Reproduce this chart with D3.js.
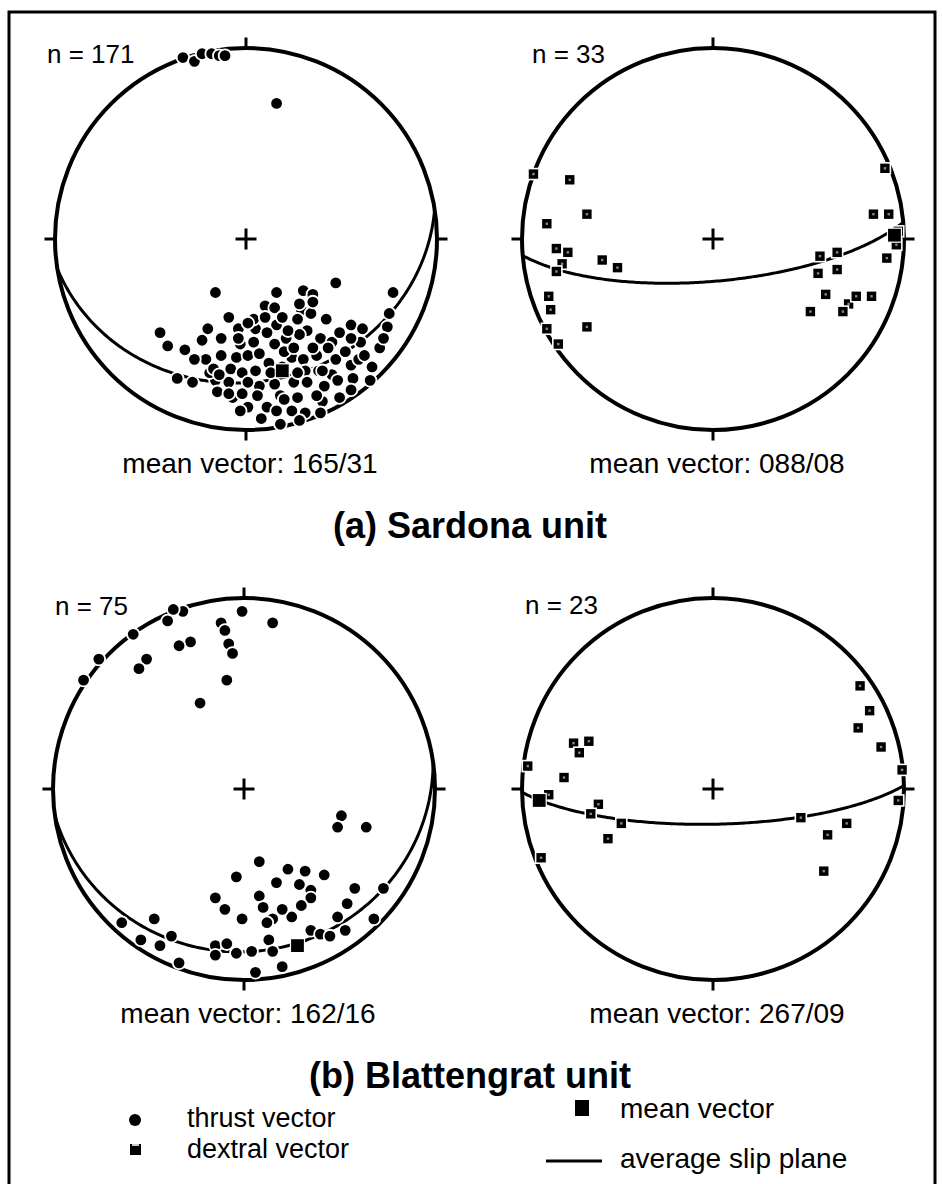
<!DOCTYPE html>
<html lang="en">
<head>
<meta charset="UTF-8">
<title>Slip vectors - Sardona and Blattengrat units</title>
<script src="https://d3js.org/d3.v7.min.js"></script>
<style>
  body { margin: 0; background: #fff; }
  text { font-family: "Liberation Sans", Arial, sans-serif; fill: #000; }
</style>
</head>
<body>
<script>
// Lineations as equal-area net coordinates [x east, y north], unit = net radius,
// read off the four plots.
let sardonaThrust = [
  [-0.33,0.95],[-0.27,0.93],[-0.23,0.97],[-0.18,0.97],[-0.14,0.96],[-0.11,0.96],
  [0.16,0.71],
  [-0.16,-0.28],[0.16,-0.28],[0.30,-0.27],[0.35,-0.29],[0.47,-0.23],[0.77,-0.28],
  [0.10,-0.35],[0.15,-0.36],[0.29,-0.37],[0.34,-0.39],[0.75,-0.39],
  [-0.09,-0.41],[0.16,-0.45],[0.27,-0.42],[0.32,-0.48],[0.42,-0.42],[0.55,-0.45],[0.61,-0.47],[0.74,-0.46],
  [-0.45,-0.49],[-0.41,-0.56],[-0.20,-0.47],[-0.04,-0.47],[0.05,-0.47],[0.11,-0.49],
  [-0.23,-0.53],[-0.13,-0.52],[0.04,-0.54],[0.15,-0.55],[0.21,-0.52],[0.28,-0.50],[0.39,-0.52],[0.45,-0.54],
  [0.60,-0.54],[0.70,-0.57],[0.72,-0.52],
  [-0.21,-0.63],[-0.13,-0.61],[-0.05,-0.62],[0.01,-0.61],[0.07,-0.60],[0.12,-0.65],[0.24,-0.62],[0.30,-0.63],
  [0.37,-0.61],[0.43,-0.57],[0.47,-0.63],[0.55,-0.66],[0.66,-0.67],
  [-0.08,-0.68],[-0.02,-0.70],[0.05,-0.69],[0.31,-0.69],[0.38,-0.69],[0.45,-0.71],[0.56,-0.73],
  [-0.36,-0.73],[-0.28,-0.75],[-0.16,-0.74],[-0.09,-0.75],[0.07,-0.77],[0.15,-0.76],[0.25,-0.75],[0.32,-0.75],[0.41,-0.77],
  [-0.15,-0.80],[-0.07,-0.83],[0.06,-0.82],[0.18,-0.82],[0.27,-0.83],[0.40,-0.85],[0.49,-0.83],
  [0.11,-0.88],[0.16,-0.90],[0.24,-0.90],[0.31,-0.91],[0.18,-0.97],
  [0.13,-0.70],[0.27,-0.70],[0.20,-0.59],[-0.03,-0.55],[0.35,-0.57],[0.52,-0.59],[-0.19,-0.70],[0.04,-0.42],[-0.02,-0.81],
  [0.01,-0.44],[0.40,-0.69],[0.01,-0.75],[0.01,-0.88],[0.59,-0.63],[0.65,-0.74],[0.48,-0.74],[0.19,-0.67],
  [0.25,-0.57],[0.19,-0.41],[0.35,-0.33],[0.28,-0.34],[0.20,-0.84],[0.08,-0.94],[0.37,-0.82],[0.55,-0.79],
  [-0.17,-0.68],[-0.27,-0.63],[-0.32,-0.58],[-0.04,-0.52],[-0.09,-0.81],[-0.03,-0.90],[0.28,-0.95],[0.39,-0.91],
  [0.62,-0.61],[0.49,-0.49],[0.55,-0.52],[0.10,-0.41],[0.22,-0.48],[-0.14,-0.71]
];
let sardonaDextral = [
  [-0.94,0.34],[-0.75,0.31],[-0.66,0.13],[-0.87,0.08],[-0.82,-0.05],[-0.76,-0.07],[-0.79,-0.13],[-0.82,-0.17],
  [-0.58,-0.11],[-0.50,-0.15],[-0.86,-0.30],[-0.85,-0.37],[-0.87,-0.47],[-0.81,-0.55],[-0.66,-0.46],
  [0.90,0.37],[0.84,0.13],[0.92,0.13],[0.96,-0.03],[0.91,-0.10],[0.97,0.04],
  [0.56,-0.09],[0.65,-0.07],[0.55,-0.18],[0.65,-0.16],[0.59,-0.29],[0.51,-0.38],[0.71,-0.34],[0.68,-0.38],
  [0.75,-0.30],[0.83,-0.30]
];
let blattThrust = [
  [-0.32,0.93],[-0.37,0.94],[-0.01,0.93],[0.15,0.87],[-0.40,0.88],[-0.12,0.87],[-0.10,0.83],[-0.58,0.81],
  [-0.28,0.77],[-0.34,0.75],[-0.08,0.76],[-0.06,0.71],[-0.76,0.68],[-0.51,0.68],[-0.55,0.63],[-0.84,0.57],
  [-0.09,0.57],[-0.23,0.45],
  [0.51,-0.14],[0.49,-0.20],[0.64,-0.20],
  [0.08,-0.38],[-0.04,-0.46],[0.23,-0.42],[0.32,-0.43],[0.42,-0.45],[0.17,-0.49],[0.29,-0.50],[0.35,-0.53],
  [0.58,-0.52],[-0.15,-0.57],[0.08,-0.56],[0.35,-0.57],[0.54,-0.60],[0.73,-0.52],[-0.10,-0.63],[0.10,-0.62],
  [0.30,-0.61],[-0.01,-0.68],[0.15,-0.68],[0.12,-0.70],[0.25,-0.67],[0.20,-0.63],[0.49,-0.67],[0.53,-0.74],
  [0.68,-0.68],[-0.47,-0.68],[-0.64,-0.70],[0.35,-0.74],[0.40,-0.76],[0.45,-0.77],[-0.54,-0.79],[-0.38,-0.77],
  [-0.44,-0.82],[-0.15,-0.82],[-0.09,-0.81],[-0.15,-0.87],[-0.04,-0.86],[0.04,-0.85],[0.13,-0.79],[0.15,-0.85],
  [-0.34,-0.91],[0.06,-0.96],[0.20,-0.93]
];
let blattDextral = [
  [0.77,0.54],[0.82,0.41],[0.76,0.32],[0.88,0.22],[0.99,0.10],[0.97,-0.06],[0.70,-0.18],[0.60,-0.24],
  [0.58,-0.43],[0.46,-0.15],
  [-0.97,0.12],[-0.73,0.24],[-0.65,0.25],[-0.70,0.19],[-0.78,0.06],[-0.86,-0.03],[-0.60,-0.08],[-0.64,-0.13],
  [-0.48,-0.18],[-0.55,-0.26],[-0.90,-0.36]
];

// mean vectors (net coordinates) and their trend/plunge labels
let meanVectors = [[0.19,-0.69],[0.95,0.02],[0.28,-0.82],[-0.91,-0.06]];
let meanLabels = ["165/31", "088/08", "162/16", "267/09"];
let counts = [171, 33, 75, 23];
// average slip planes: [dip direction, dip]
let slipPlanes = [[171,26],[175,72],[172,16],[179,75]];
let unitTitles = ["(a) Sardona unit", "(b) Blattengrat unit"];

let width = 942;
let height = 1184;
let R = 191;

let svg = d3.select('body').append('svg')
    .attr('width', width)
    .attr('height', height);

// outer frame
svg.append('rect')
    .attr('x', 9).attr('y', 12)
    .attr('width', 926).attr('height', 1190)
    .attr('fill', 'none')
    .attr('stroke', '#000')
    .attr('stroke-width', 3);

let nets = [
    {cx: 246, cy: 239, pts: sardonaThrust, kind: 'dot', nx: 47, ny: 63},
    {cx: 713, cy: 239, pts: sardonaDextral, kind: 'square', nx: 532, ny: 63},
    {cx: 244, cy: 789, pts: blattThrust, kind: 'dot', nx: 55, ny: 615},
    {cx: 713, cy: 789, pts: blattDextral, kind: 'square', nx: 525, ny: 614}
];

nets.forEach((net, i) => {
    let g = svg.append('g');
    let x = d3.scaleLinear().domain([-1, 1]).range([net.cx - R, net.cx + R]);
    let y = d3.scaleLinear().domain([-1, 1]).range([net.cy + R, net.cy - R]);

    // lower hemisphere equal-area (Schmidt) net: lon = 180 - trend, lat = plunge
    let proj = d3.geoAzimuthalEqualArea()
        .rotate([0, -90])
        .clipAngle(90)
        .scale(R / Math.SQRT2)
        .translate([net.cx, net.cy])
        .precision(0.1);
    let path = d3.geoPath(proj);

    // primitive
    g.append('circle')
        .attr('cx', x(0)).attr('cy', y(0))
        .attr('r', x(1) - x(0))
        .attr('fill', 'none')
        .attr('stroke', '#000')
        .attr('stroke-width', 4);

    // N E S W ticks
    let ticks = [[0, 1], [1, 0], [0, -1], [-1, 0]];
    g.selectAll('line.tick').data(ticks).enter().append('line')
        .attr('class', 'tick')
        .attr('x1', d => x(d[0])).attr('y1', d => y(d[1]))
        .attr('x2', d => x(d[0] * 1.055)).attr('y2', d => y(d[1] * 1.055))
        .attr('stroke', '#000').attr('stroke-width', 3);

    // centre cross
    g.append('line')
        .attr('x1', x(-0.055)).attr('x2', x(0.055))
        .attr('y1', y(0)).attr('y2', y(0))
        .attr('stroke', '#000').attr('stroke-width', 3);
    g.append('line')
        .attr('x1', x(0)).attr('x2', x(0))
        .attr('y1', y(-0.055)).attr('y2', y(0.055))
        .attr('stroke', '#000').attr('stroke-width', 3);

    // average slip plane (great circle = 90 deg around the pole)
    let plane = slipPlanes[i];
    let pole = [-plane[0], 90 - plane[1]];
    let ring = d3.geoCircle().center(pole).radius(90).precision(1)().coordinates[0];
    g.append('path')
        .datum({type: 'LineString', coordinates: ring})
        .attr('d', path)
        .attr('fill', 'none')
        .attr('stroke', '#000')
        .attr('stroke-width', 3);

    // data
    if (net.kind === 'dot') {
        g.selectAll('circle.pt').data(net.pts).enter().append('circle')
            .attr('class', 'pt')
            .attr('cx', d => x(d[0])).attr('cy', d => y(d[1]))
            .attr('r', 6.3)
            .attr('fill', '#000')
            .attr('stroke', '#fff')
            .attr('stroke-width', 1.8);
    } else {
        let s = g.selectAll('g.pt').data(net.pts).enter().append('g')
            .attr('class', 'pt')
            .attr('transform', d => `translate(${x(d[0])},${y(d[1])})`);
        s.append('rect')
            .attr('x', -5.5).attr('y', -5.5).attr('width', 11).attr('height', 11)
            .attr('fill', '#000').attr('stroke', '#fff').attr('stroke-width', 1.6);
        s.append('rect')
            .attr('x', -1.2).attr('y', -1.2).attr('width', 2.4).attr('height', 2.4)
            .attr('fill', '#888');
    }

    // mean vector
    let m = meanVectors[i];
    g.append('rect')
        .attr('x', x(m[0]) - 7).attr('y', y(m[1]) - 7)
        .attr('width', 14).attr('height', 14)
        .attr('fill', '#000').attr('stroke', '#fff').attr('stroke-width', 1.2);

    // labels
    g.append('text')
        .attr('x', net.nx).attr('y', net.ny)
        .style('font-size', '26px')
        .text('n = ' + counts[i]);
    g.append('text')
        .attr('x', net.cx + 4).attr('y', net.cy + R + 43)
        .attr('text-anchor', 'middle')
        .style('font-size', '28px')
        .text('mean vector: ' + meanLabels[i]);
});

// unit titles
svg.selectAll('text.title').data(unitTitles).enter().append('text')
    .attr('class', 'title')
    .attr('x', 470)
    .attr('y', (d, i) => i === 0 ? 538 : 1088)
    .attr('text-anchor', 'middle')
    .style('font-size', '36px')
    .style('font-weight', 'bold')
    .text(d => d);

// legend
let leg = svg.append('g');
leg.append('circle').attr('cx', 135).attr('cy', 1120).attr('r', 6).attr('fill', '#000');
leg.append('rect').attr('x', 130).attr('y', 1144).attr('width', 11).attr('height', 11).attr('fill', '#000');
leg.append('rect').attr('x', 132).attr('y', 1144).attr('width', 7).attr('height', 2).attr('fill', '#ccc');
leg.append('text').attr('x', 187).attr('y', 1127).style('font-size', '27px').text('thrust vector');
leg.append('text').attr('x', 187).attr('y', 1158).style('font-size', '27px').text('dextral vector');
leg.append('rect').attr('x', 575).attr('y', 1100).attr('width', 14).attr('height', 16).attr('fill', '#000');
leg.append('line').attr('x1', 546).attr('x2', 602).attr('y1', 1161).attr('y2', 1161)
    .attr('stroke', '#000').attr('stroke-width', 3);
leg.append('text').attr('x', 620).attr('y', 1118).style('font-size', '28px').text('mean vector');
leg.append('text').attr('x', 620).attr('y', 1168).style('font-size', '28px').text('average slip plane');
</script>
</body>
</html>
